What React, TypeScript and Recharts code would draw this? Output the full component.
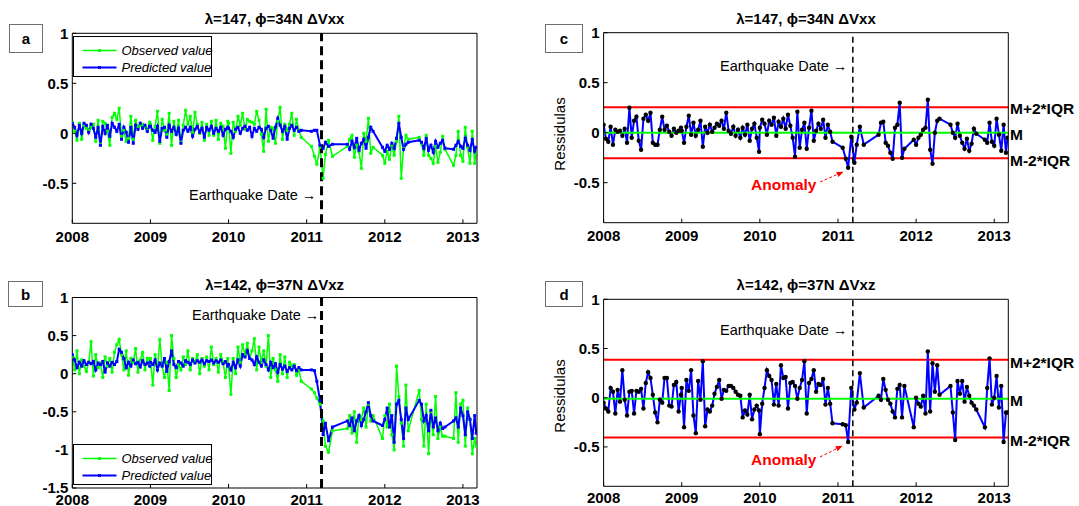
import React from 'react'
import { LineChart, Line, XAxis, YAxis, ReferenceLine } from 'recharts'

const FONT = '"Liberation Sans", Arial, Helvetica, sans-serif'
const W = 1079
const H = 506

const years = [2008, 2009, 2010, 2011, 2012, 2013]
const xDomain = [2008, 2013.18]
const quakeDate = 2011.19

const ticksSmall = [-0.5, 0, 0.5, 1]
const ticksWide = [-1.5, -1, -0.5, 0, 0.5, 1]

// observation dates (decimal years), shared by all four panels
const dates = [
  2008.00, 2008.03, 2008.06, 2008.09, 2008.12, 2008.15, 2008.18, 2008.21, 2008.24, 2008.27, 2008.30, 2008.33,
  2008.36, 2008.39, 2008.42, 2008.45, 2008.48, 2008.51, 2008.54, 2008.57, 2008.60, 2008.63, 2008.66, 2008.69,
  2008.72, 2008.75, 2008.78, 2008.81, 2008.84, 2008.87, 2008.90, 2008.93, 2008.96, 2008.99,
  2009.00, 2009.03, 2009.06, 2009.09, 2009.12, 2009.15, 2009.18, 2009.21, 2009.24, 2009.27, 2009.30, 2009.33,
  2009.36, 2009.39, 2009.42, 2009.45, 2009.48, 2009.51, 2009.54, 2009.57, 2009.60, 2009.63, 2009.66, 2009.69,
  2009.72, 2009.75, 2009.78, 2009.81, 2009.84, 2009.87, 2009.90, 2009.93, 2009.96, 2009.99,
  2010.00, 2010.03, 2010.06, 2010.09, 2010.12, 2010.15, 2010.18, 2010.21, 2010.24, 2010.27, 2010.30, 2010.33,
  2010.36, 2010.39, 2010.42, 2010.45, 2010.48, 2010.51, 2010.54, 2010.57, 2010.60, 2010.63, 2010.66, 2010.69,
  2010.72, 2010.75, 2010.78, 2010.81, 2010.84, 2010.87, 2010.90, 2010.93,
  2011.06, 2011.10, 2011.13, 2011.17, 2011.21, 2011.24, 2011.28, 2011.33,
  2011.52, 2011.55, 2011.58, 2011.61, 2011.64, 2011.67, 2011.70, 2011.73, 2011.76, 2011.79, 2011.82, 2011.85,
  2011.97, 2012.00, 2012.03, 2012.06, 2012.09, 2012.12, 2012.15, 2012.18, 2012.21, 2012.24, 2012.27, 2012.30,
  2012.44, 2012.47, 2012.50, 2012.53, 2012.56, 2012.59, 2012.62, 2012.65, 2012.68, 2012.71, 2012.74, 2012.77,
  2012.88, 2012.91, 2012.94, 2012.97, 2013.00, 2013.03, 2013.06, 2013.09, 2013.12, 2013.15, 2013.17,
]

// panel a: dVxx observed / predicted
const obsA = [
  0.11, 0.02, -0.07, 0.10, -0.06, 0.08, 0.05, 0.03, 0.06, 0.09, -0.08, 0.13, -0.11, 0.12, 0.10, 0.02, -0.12,
  0.16, 0.20, 0.14, 0.25, -0.03, 0.03, -0.08, -0.05, 0.17, -0.06, 0.13, 0.06, 0.08, 0.09, 0.07, 0.03, 0.11,
  0.09, -0.07, 0.07, 0.22, -0.10, 0.14, 0.03, -0.01, 0.20, -0.12, 0.12, -0.01, 0.13, -0.09, 0.08, 0.23, 0.09,
  0.17, 0.01, 0.21, 0.09, 0.00, 0.11, -0.07, 0.09, -0.02, 0.12, -0.02, 0.13, -0.06, 0.10, 0.07, -0.15, 0.12,
  0.10, -0.20, 0.11, 0.02, 0.17, 0.08, 0.20, 0.04, 0.14, 0.12, 0.11, 0.09, 0.22, 0.13, -0.01, -0.18, 0.24,
  -0.08, 0.06, 0.05, -0.10, 0.12, 0.26, -0.06, 0.09, 0.03, 0.09, 0.20, -0.02, 0.14, 0.03, -0.04,
  -0.13, -0.23, -0.31, -0.14, -0.45, -0.21, -0.07, -0.23,
  -0.13, -0.06, -0.02, -0.24, -0.12, -0.18, -0.35, 0.00, -0.08, 0.15, -0.20, -0.14,
  -0.22, -0.30, -0.18, -0.26, -0.12, -0.22, -0.08, 0.17, -0.45, -0.15, -0.02, -0.06,
  -0.04, -0.10, -0.22, -0.02, -0.22, -0.25, -0.30, -0.13, -0.29, -0.19, -0.03, -0.16,
  -0.32, -0.22, 0.02, -0.22, -0.28, 0.06, -0.14, -0.30, 0.02, -0.30, -0.19,
]
const predA = [
  0.10, 0.06, -0.02, 0.08, 0.00, 0.10, 0.08, 0.01, 0.09, 0.05, -0.04, 0.06, -0.12, 0.07, 0.00, 0.08, -0.03,
  0.10, 0.06, 0.02, 0.09, -0.06, 0.06, 0.01, -0.09, 0.06, -0.10, 0.08, 0.04, 0.10, 0.05, 0.08, 0.02, 0.07,
  0.07, 0.03, 0.01, 0.07, -0.08, 0.05, 0.06, -0.04, 0.08, 0.02, 0.06, -0.01, 0.05, -0.10, 0.03, 0.06, 0.02,
  0.06, -0.03, 0.04, 0.07, 0.01, 0.05, -0.04, 0.06, 0.03, 0.07, 0.00, 0.05, 0.02, 0.06, -0.02, 0.04, 0.06,
  0.05, 0.02, -0.04, 0.04, 0.06, 0.00, 0.05, 0.07, 0.03, 0.06, -0.03, 0.05, 0.02, 0.06, 0.04, -0.04, 0.05,
  0.07, 0.03, -0.05, 0.06, 0.15, 0.08, 0.02, 0.07, -0.06, 0.05, 0.08, 0.03, 0.06, 0.02, 0.03,
  0.02, 0.03, 0.03, -0.12, -0.15, -0.09, -0.13, -0.11,
  -0.11, -0.16, -0.08, -0.14, -0.05, -0.17, -0.10, -0.06, -0.15, -0.04, 0.06, 0.02,
  -0.14, -0.18, -0.12, -0.16, -0.10, -0.15, -0.05, 0.10, -0.04, -0.16, -0.11, -0.09,
  -0.07, -0.09, -0.15, -0.05, -0.17, -0.12, -0.19, -0.08, -0.14, -0.10, -0.07, -0.15,
  -0.16, -0.12, -0.08, -0.13, -0.15, -0.05, -0.12, -0.17, -0.06, -0.18, -0.14,
]
// panel c: residuals of dVxx
const resA = [
  0.08, -0.06, -0.09, 0.06, -0.12, 0.03, 0.01, 0.02, -0.03, 0.04, -0.10, 0.25, -0.05, 0.12, 0.16, -0.08, -0.17,
  0.14, 0.18, 0.12, 0.20, -0.10, -0.12, -0.12, 0.03, 0.16, 0.03, 0.07, 0.01, -0.03, 0.04, 0.00, 0.02, 0.05,
  0.02, -0.10, 0.06, 0.17, -0.02, 0.10, -0.03, 0.03, 0.12, -0.14, 0.06, 0.00, 0.08, 0.01, 0.05, 0.09, 0.07,
  0.12, 0.04, 0.20, 0.02, -0.01, 0.06, -0.03, 0.03, -0.05, 0.05, -0.02, 0.08, -0.08, 0.04, 0.09, -0.05, -0.19,
  0.05, 0.13, 0.09, -0.02, 0.12, 0.08, 0.15, -0.03, 0.11, 0.06, 0.14, 0.04, 0.18, 0.07, -0.05, -0.24, 0.21,
  -0.15, 0.03, 0.10, -0.16, 0.05, 0.22, -0.08, 0.02, 0.09, 0.04, 0.13, -0.05, 0.08, 0.01, -0.09,
  -0.15, -0.26, -0.35, -0.04, -0.30, -0.12, 0.06, -0.12,
  -0.02, 0.10, 0.11, -0.10, -0.13, -0.20, -0.26, 0.05, 0.08, 0.30, -0.25, -0.16,
  -0.07, -0.12, -0.05, -0.02, 0.03, 0.05, 0.33, -0.17, -0.31, 0.00, 0.12, 0.14,
  0.08, 0.00, -0.05, 0.09, -0.03, -0.10, -0.16, -0.06, -0.18, -0.11, 0.04, -0.01,
  -0.07, -0.10, 0.10, -0.09, -0.13, 0.14, -0.02, -0.18, 0.08, -0.20, -0.05,
]

// panel b: dVxz observed / predicted
const obsB = [
  0.22, 0.05, 0.30, 0.00, 0.18, 0.10, 0.03, 0.15, 0.42, -0.03, 0.25, 0.08, 0.14, -0.05, 0.22, 0.10, 0.20,
  0.02, 0.28, 0.38, 0.45, 0.25, 0.05, 0.30, -0.02, 0.20, 0.15, 0.33, 0.02, 0.18, 0.28, 0.05, 0.20, 0.12,
  0.20, -0.15, 0.25, 0.05, 0.45, 0.10, -0.05, 0.15, -0.22, 0.50, 0.20, -0.05, 0.12, 0.05, 0.22, 0.12, 0.30,
  0.05, 0.20, 0.15, 0.25, 0.00, 0.20, 0.10, 0.22, 0.05, 0.35, 0.12, 0.20, 0.02, 0.25, 0.15, -0.05, 0.20,
  0.10, -0.27, 0.20, 0.00, 0.35, 0.15, 0.38, 0.25, 0.40, 0.20, 0.30, 0.46, 0.05, 0.35, 0.15, 0.30, 0.10,
  0.50, -0.05, 0.20, 0.05, -0.10, 0.25, 0.00, 0.22, -0.05, 0.15, 0.10, 0.12, -0.02, 0.05, -0.10,
  -0.20, -0.25, -0.32, -0.40, -0.62, -0.95, -1.03, -0.75,
  -0.72, -0.55, -0.78, -0.50, -0.90, -0.55, -0.60, -0.45, -0.70, -0.40, -0.62, -0.55,
  -0.85, -0.55, -0.70, -0.40, -0.80, -1.00, 0.10, -0.30, -0.65, -0.95, -0.15, -0.75,
  -0.22, -0.60, -0.95, -0.40, -1.05, -0.50, -0.80, -0.30, -0.85, -0.70, -0.82, -0.82,
  -0.85, -0.25, -0.90, -0.40, -0.35, -0.95, -0.45, -0.60, -1.05, -0.85, -0.95,
]
const predB = [
  0.25, 0.18, 0.08, 0.15, 0.10, 0.17, 0.12, 0.15, 0.13, 0.16, 0.05, 0.14, 0.12, 0.16, 0.02, 0.14, 0.10,
  0.15, 0.12, 0.16, 0.32, 0.28, 0.20, 0.08, 0.15, 0.10, 0.18, 0.13, 0.15, 0.09, 0.17, 0.12, 0.14, 0.10,
  0.15, 0.12, 0.18, 0.05, 0.14, 0.10, 0.20, 0.03, 0.16, 0.30, 0.12, 0.08, 0.16, 0.14, 0.10, 0.17, 0.15,
  0.12, 0.18, 0.14, 0.17, 0.15, 0.18, 0.13, 0.17, 0.16, 0.18, 0.14, 0.17, 0.15, 0.18, 0.13, 0.16, 0.10,
  0.12, 0.05, 0.15, 0.08, 0.18, 0.10, 0.25, 0.22, 0.30, 0.20, 0.18, 0.12, 0.22, 0.15, 0.10, 0.18, 0.12,
  0.05, 0.15, 0.08, 0.13, 0.02, 0.12, 0.06, 0.10, 0.03, 0.08, 0.05, 0.10, 0.04, 0.08, 0.05,
  0.05, 0.04, -0.10, -0.35, -0.80, -0.65, -0.88, -0.70,
  -0.62, -0.68, -0.58, -0.75, -0.62, -0.55, -0.68, -0.60, -0.50, -0.38, -0.55, -0.62,
  -0.68, -0.60, -0.45, -0.70, -0.55, -0.90, -0.40, -0.35, -0.60, -0.85, -0.45, -0.60,
  -0.35, -0.40, -0.62, -0.55, -0.75, -0.48, -0.70, -0.58, -0.75, -0.65, -0.72, -0.70,
  -0.62, -0.58, -0.70, -0.45, -0.55, -0.80, -0.50, -0.60, -0.85, -0.55, -0.78,
]
// panel d: residuals of dVxz
const resB = [
  -0.05, -0.11, -0.14, 0.10, 0.06, -0.16, 0.08, -0.04, 0.28, -0.02, -0.18, 0.06, 0.07, -0.16, 0.07, 0.06, 0.09,
  -0.11, 0.15, 0.26, 0.20, 0.03, -0.15, -0.25, -0.02, -0.05, 0.20, 0.20, -0.08, -0.09, 0.13, 0.16, -0.14, 0.03,
  0.10, -0.30, 0.18, 0.07, 0.28, -0.18, -0.36, 0.17, -0.02, 0.37, -0.29, -0.12, -0.14, -0.08, 0.04, 0.11, 0.18,
  -0.01, 0.08, 0.07, 0.12, 0.12, 0.10, 0.06, 0.03, 0.02, -0.20, -0.13, -0.17, 0.03, -0.22, -0.12, -0.08, -0.13,
  -0.37, -0.06, 0.10, 0.28, 0.22, 0.18, -0.07, 0.14, -0.08, 0.33, 0.20, 0.21, -0.11, 0.15, 0.16, 0.12, -0.01,
  0.10, 0.18, 0.37, -0.16, 0.15, 0.19, 0.28, 0.06, 0.14, 0.13, 0.19, -0.07, 0.10, -0.06, -0.26,
  -0.27, -0.28, -0.45, 0.10, -0.12, -0.05, 0.25, -0.10,
  0.02, -0.02, 0.19, 0.08, -0.02, -0.06, -0.14, -0.20, 0.09, 0.13, -0.20, 0.12,
  -0.30, 0.00, -0.06, -0.09, 0.02, -0.16, 0.47, -0.14, 0.35, 0.06, 0.33, 0.03,
  0.12, -0.15, -0.43, 0.17, 0.04, 0.17, -0.04, 0.11, 0.02, -0.05, -0.08, -0.12,
  -0.30, 0.10, 0.40, -0.07, 0.00, 0.22, -0.10, 0.12, -0.45, -0.15, -0.15,
]

// median and median ± 2*IQR of the residuals
const bandsC = { m: 0, lo: -0.255, hi: 0.255 }
const bandsD = { m: -0.01, lo: -0.405, hi: 0.385 }

const rows = dates.map((t, i) => ({
  t,
  obsA: obsA[i],
  predA: predA[i],
  resA: resA[i],
  obsB: obsB[i],
  predB: predB[i],
  resB: resB[i],
}))

const tickStyle = { fill: '#000', fontSize: 15, fontWeight: 700, fontFamily: FONT }

const squareDot = (color: string, s: number) => (p: any) => (
  <rect key={p.index} x={p.cx - s / 2} y={p.cy - s / 2} width={s} height={s} fill={color} />
)
const roundDot = (p: any) => <circle key={p.index} cx={p.cx} cy={p.cy} r={2.2} fill="#000" />

interface PanelProps {
  plot: [number, number, number, number] // left, right, top, bottom in page px
  yDomain: number[]
  yTicks: number[]
  labelGap?: number
  children: React.ReactNode
}

function Panel({ plot, yDomain, yTicks, labelGap = 12, children }: PanelProps) {
  const [l, r, t, b] = plot
  return (
    <div style={{ position: 'absolute', left: 0, top: 0 }}>
      <LineChart
        width={W}
        height={H}
        data={rows}
        margin={{ left: l - 50, right: W - r - 10, top: t - 10, bottom: H - b - 10 }}
      >
        <XAxis
          dataKey="t"
          type="number"
          domain={xDomain}
          ticks={years}
          interval={0}
          allowDataOverflow
          height={10}
          tickSize={-4}
          tickMargin={labelGap}
          stroke="#000"
          tick={tickStyle}
        />
        <XAxis
          xAxisId="top"
          orientation="top"
          type="number"
          domain={xDomain}
          ticks={years}
          interval={0}
          allowDataOverflow
          height={10}
          tickSize={-4}
          stroke="#000"
          tick={false}
        />
        <YAxis
          type="number"
          domain={yDomain}
          ticks={yTicks}
          interval={0}
          allowDataOverflow
          width={50}
          tickSize={-4}
          tickMargin={8}
          stroke="#000"
          tick={tickStyle}
        />
        <YAxis
          yAxisId="right"
          orientation="right"
          type="number"
          domain={yDomain}
          ticks={yTicks}
          interval={0}
          allowDataOverflow
          width={10}
          tickSize={-4}
          stroke="#000"
          tick={false}
        />
        {children}
      </LineChart>
    </div>
  )
}

function FitPanel({ plot, yDomain, yTicks, obsKey, predKey, labelGap }: any) {
  return (
    <Panel plot={plot} yDomain={yDomain} yTicks={yTicks} labelGap={labelGap}>
      <Line dataKey={obsKey} stroke="#00ff00" strokeWidth={1.5} dot={squareDot('#00ff00', 3)} activeDot={false} isAnimationActive={false} />
      <Line dataKey={predKey} stroke="#0000ff" strokeWidth={2} dot={squareDot('#0000ff', 3)} activeDot={false} isAnimationActive={false} />
      <ReferenceLine x={quakeDate} stroke="#000" strokeWidth={3} strokeDasharray="9 5" />
    </Panel>
  )
}

function ResPanel({ plot, resKey, bands, labelGap }: any) {
  return (
    <Panel plot={plot} yDomain={[-0.9, 1]} yTicks={ticksSmall} labelGap={labelGap}>
      <ReferenceLine y={bands.hi} stroke="#ff0000" strokeWidth={2} />
      <ReferenceLine y={bands.lo} stroke="#ff0000" strokeWidth={2} />
      <Line dataKey={resKey} stroke="#0000ff" strokeWidth={2} dot={roundDot} activeDot={false} isAnimationActive={false} />
      <ReferenceLine y={bands.m} stroke="#00ff00" strokeWidth={2} />
      <ReferenceLine x={quakeDate} stroke="#000" strokeWidth={1.5} strokeDasharray="6 4" />
    </Panel>
  )
}

function LabelBox({ x, y, w, h, label }: any) {
  return (
    <g>
      <rect x={x} y={y} width={w} height={h} fill="#fff" stroke="#6e6e6e" strokeWidth={1} />
      <text x={x + w / 2} y={y + h / 2} textAnchor="middle" dominantBaseline="central" fontWeight={700} fontSize={15}>
        {label}
      </text>
    </g>
  )
}

function LegendBox({ x, y }: any) {
  const items = [
    { color: '#00ff00', width: 1.5, text: 'Observed value' },
    { color: '#0000ff', width: 2, text: 'Predicted value' },
  ]
  return (
    <g>
      <rect x={x} y={y} width={138} height={40} fill="#fff" stroke="#000" strokeWidth={1} />
      {items.map((it, i) => {
        const cy = y + 14 + i * 17
        return (
          <g key={it.text}>
            <line x1={x + 9} x2={x + 43} y1={cy} y2={cy} stroke={it.color} strokeWidth={it.width} />
            <rect x={x + 24.5} y={cy - 1.5} width={3} height={3} fill={it.color} />
            <text x={x + 48} y={cy} dominantBaseline="central" fontStyle="italic" fontSize={13}>
              {it.text}
            </text>
          </g>
        )
      })}
    </g>
  )
}

function Overlay() {
  const title = { textAnchor: 'middle' as const, dominantBaseline: 'central' as const, fontWeight: 700, fontSize: 15 }
  const quake = { dominantBaseline: 'central' as const, fontSize: 14.5 }
  const right = { dominantBaseline: 'central' as const, fontWeight: 700, fontSize: 15.5 }
  const anomaly = { dominantBaseline: 'central' as const, fontWeight: 700, fontSize: 15.5, fill: '#ff0000' }
  return (
    <svg width={W} height={H} fontFamily={FONT} style={{ position: 'absolute', left: 0, top: 0, pointerEvents: 'none' }}>
      <defs>
        <marker id="ah" viewBox="0 0 10 10" refX="9" refY="5" markerWidth="7" markerHeight="7" orient="auto">
          <path d="M0,1 L10,5 L0,9 z" fill="#ff0000" />
        </marker>
      </defs>

      <text x={274.6} y={18} {...title}>λ=147, ϕ=34N ΔVxx</text>
      <text x={806} y={18} {...title}>λ=147, ϕ=34N ΔVxx</text>
      <text x={274.6} y={284.5} {...title}>λ=142, ϕ=37N ΔVxz</text>
      <text x={806} y={284.5} {...title}>λ=142, ϕ=37N ΔVxz</text>

      <LabelBox x={9.5} y={24.5} w={33} h={28} label="a" />
      <LabelBox x={8.5} y={281.5} w={34} h={25} label="b" />
      <LabelBox x={545.5} y={24.5} w={37} h={28} label="c" />
      <LabelBox x={545.5} y={281.5} w={37} h={25} label="d" />

      <LegendBox x={73.5} y={36.5} />
      <LegendBox x={73.5} y={444.5} />

      <text x={189} y={195} {...quake}>Earthquake Date →</text>
      <text x={192} y={315} {...quake}>Earthquake Date →</text>
      <text x={720} y={65.5} {...quake}>Earthquake Date →</text>
      <text x={720} y={330} {...quake}>Earthquake Date →</text>

      <text x={1010} y={108.5} {...right}>M+2*IQR</text>
      <text x={1010} y={134} {...right}>M</text>
      <text x={1010} y={160.5} {...right}>M-2*IQR</text>
      <text x={1010} y={362} {...right}>M+2*IQR</text>
      <text x={1010} y={400} {...right}>M</text>
      <text x={1010} y={440} {...right}>M-2*IQR</text>

      <text transform="translate(559,134) rotate(-90)" textAnchor="middle" dominantBaseline="central" fontSize={15}>Ressidulas</text>
      <text transform="translate(559,396) rotate(-90)" textAnchor="middle" dominantBaseline="central" fontSize={15}>Ressidulas</text>

      <text x={751} y={184} {...anomaly}>Anomaly</text>
      <line x1={820} y1={182} x2={843} y2={172} stroke="#ff0000" strokeWidth={1} strokeDasharray="3 2" markerEnd="url(#ah)" />
      <text x={751} y={459} {...anomaly}>Anomaly</text>
      <line x1={820} y1={457} x2={842} y2={446} stroke="#ff0000" strokeWidth={1} strokeDasharray="3 2" markerEnd="url(#ah)" />
    </svg>
  )
}

export default function App() {
  return (
    <div style={{ position: 'absolute', left: 0, top: 0, width: W, height: H, background: '#fff', fontFamily: FONT }}>
      <FitPanel plot={[72.3, 477, 33.3, 223.3]} yDomain={[-0.9, 1]} yTicks={ticksSmall} obsKey="obsA" predKey="predA" />
      <FitPanel plot={[72.3, 477, 297.5, 488]} yDomain={[-1.5, 1]} yTicks={ticksWide} obsKey="obsB" predKey="predB" labelGap={10} />
      <ResPanel plot={[603.6, 1008.3, 32.7, 222.7]} resKey="resA" bands={bandsC} />
      <ResPanel plot={[603.6, 1008.3, 299.3, 486.3]} resKey="resB" bands={bandsD} labelGap={10} />
      <Overlay />
    </div>
  )
}
